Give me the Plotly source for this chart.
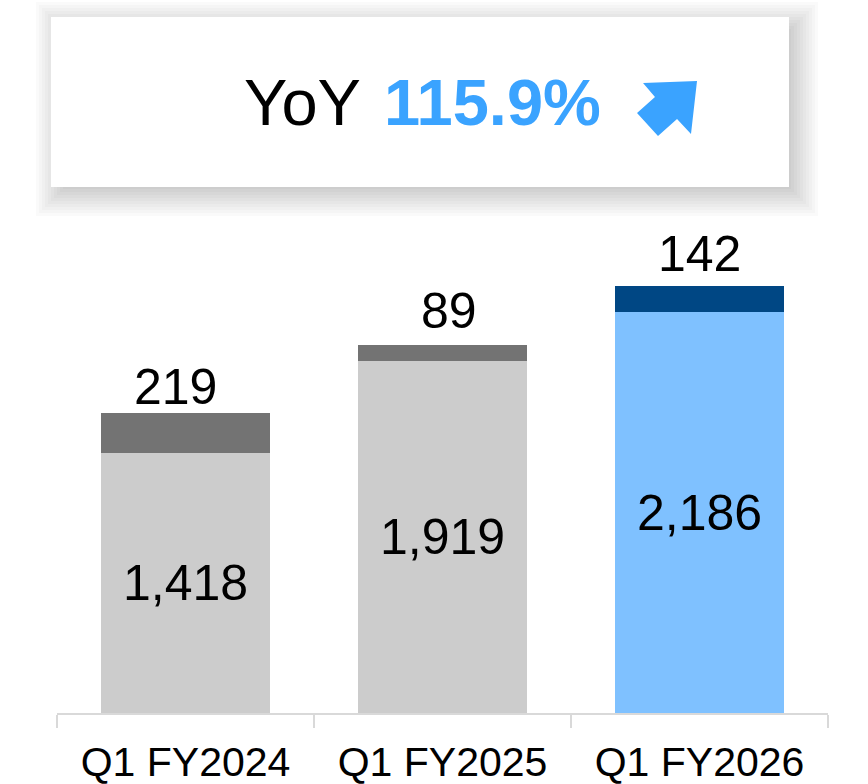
import plotly.graph_objects as go

# Data
categories = ['Q1 FY2024', 'Q1 FY2025', 'Q1 FY2026']
base_values = [1418, 1919, 2186]
top_values = [219, 89, 142]
base_colors = ['#cccccc', '#cccccc', '#7fc1ff']
top_colors = ['#737373', '#737373', '#004784']
yoy_label = '115.9%'

# small per-label nudges (px) for the totals above the stacks
label_dx = [-10, 6, 0]
label_dy = [-4, 4, 2]

FONT = 'Liberation Sans, Arial, sans-serif'

# Plot area in pixels (used to place the decorative box in paper coords)
W, H = 868, 784
L, R, T, B = 57, 40, 0, 71
PW, PH = W - L - R, H - T - B


def px_x(p):
    return (p - L) / PW


def px_y(p):
    return (H - B - p) / PH


fig = go.Figure()

fig.add_trace(go.Bar(
    x=categories,
    y=base_values,
    marker_color=base_colors,
    marker_line_width=0,
    text=[f'{v:,}' for v in base_values],
    textposition='inside',
    insidetextanchor='middle',
    constraintext='none',
    textfont=dict(family=FONT, size=50, color='black'),
    hoverinfo='skip',
))

fig.add_trace(go.Bar(
    x=categories,
    y=top_values,
    marker_color=top_colors,
    marker_line_width=0,
    hoverinfo='skip',
))

# Labels above the stacks
for cat, b, t, dx, dy in zip(categories, base_values, top_values, label_dx, label_dy):
    fig.add_annotation(
        x=cat, y=b + t, text=f'{t:,}',
        showarrow=False, yanchor='bottom', xshift=dx, yshift=dy,
        font=dict(family=FONT, size=50, color='black'),
    )

# YoY box with soft shadow (stack of faint rects = cheap blur)
bx0, bx1, by0, by1 = 51, 789, 17, 187
off = 7
for k in range(-20, 23, 3):
    fig.add_shape(
        type='rect', xref='paper', yref='paper', layer='above',
        x0=px_x(bx0 + off - k), x1=px_x(bx1 + off + k),
        y0=px_y(by0 + off - k), y1=px_y(by1 + off + k),
        fillcolor='rgba(0,0,0,0.021)', line_width=0,
    )
fig.add_shape(
    type='rect', xref='paper', yref='paper', layer='above',
    x0=px_x(bx0), x1=px_x(bx1), y0=px_y(by0), y1=px_y(by1),
    fillcolor='white', line_width=0,
)

arrow_pts = [(697, 81), (643, 83), (655, 97), (637, 113),
             (658, 136), (677, 119), (691, 134)]
path = 'M ' + ' L '.join(f'{px_x(x):.4f},{px_y(y):.4f}' for x, y in arrow_pts) + ' Z'
fig.add_shape(
    type='path', xref='paper', yref='paper', layer='above',
    path=path, fillcolor='#3aa3ff', line_width=0,
)

fig.add_annotation(
    xref='paper', yref='paper', x=px_x(242), y=px_y(102),
    xanchor='left', yanchor='middle', showarrow=False,
    text='YoY', font=dict(family=FONT, size=65, color='black'),
)
fig.add_annotation(
    xref='paper', yref='paper', x=px_x(382), y=px_y(102),
    xanchor='left', yanchor='middle', showarrow=False,
    text=f'<b>{yoy_label}</b>', font=dict(family=FONT, size=65, color='#3aa3ff'),
)

fig.update_layout(
    width=W, height=H,
    margin=dict(l=L, r=R, t=T, b=B),
    barmode='stack',
    bargap=0.339,
    showlegend=False,
    plot_bgcolor='white',
    paper_bgcolor='white',
    xaxis=dict(
        showline=True, linecolor='#d9d9d9', linewidth=2,
        ticks='outside', tickson='boundaries', ticklen=13,
        tickcolor='#d9d9d9', tickwidth=2,
        tickfont=dict(family=FONT, size=41, color='black'),
        ticklabelstandoff=12,
        showgrid=False,
    ),
    yaxis=dict(
        range=[0, 3890], visible=False, showgrid=False, zeroline=False,
    ),
)

# drop the default 8px body margin so the figure sits at the page origin
fig.write_html(
    'out.html',
    config={'displayModeBar': False},
    post_script="document.body.style.margin='0px';",
)
